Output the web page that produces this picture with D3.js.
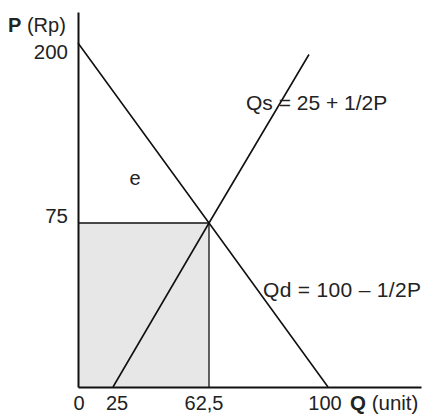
<!DOCTYPE html>
<html><head><meta charset="utf-8">
<script src="https://cdn.jsdelivr.net/npm/d3@7"></script>
<style>
html,body{margin:0;padding:0;background:#fff;}
text{font-family:"Liberation Sans",Arial,sans-serif;fill:#222;}
</style></head>
<body>
<svg id="c" width="423" height="415"></svg>
<script>
// Data
const qTicks = [0, 25, 62.5, 100];
const qTickLabels = ["0", "25", "62,5", "100"];
const pTicks = [75, 200];
const pTickLabels = ["75", "200"];
const demandQ = [0, 62.5, 100];
const demandP = [200, 75, 0];
const supplyQ = [25, 62.5, 94];
const supplyP = [0, 75, 192];
const eqQ = 62.5, eqP = 75;
const demandLabel = "Qd = 100 \u2013 1/2P";
const supplyLabel = "Qs = 25 + 1/2P";

const svg = d3.select("#c");
// schematic (piecewise) scales
const x = d3.scaleLinear().domain([0, 25, 62.5, 100, 130]).range([78, 113, 209, 328, 421]);
const y = d3.scaleLinear().domain([0, 75, 200, 225]).range([387, 223, 43, 12]);

// shaded area
svg.append("rect")
  .attr("x", x(0)).attr("y", y(eqP))
  .attr("width", x(eqQ) - x(0)).attr("height", y(0) - y(eqP))
  .attr("fill", "#e7e7e7");

// guide lines
svg.append("line").attr("x1", x(0)).attr("x2", x(eqQ)).attr("y1", y(eqP)).attr("y2", y(eqP))
  .attr("stroke", "#111").attr("stroke-width", 1.3);
svg.append("line").attr("x1", x(eqQ)).attr("x2", x(eqQ)).attr("y1", y(eqP)).attr("y2", y(0))
  .attr("stroke", "#111").attr("stroke-width", 1.3);

const line = d3.line().x(d => x(d[0])).y(d => y(d[1]));
svg.append("path").attr("d", line(demandQ.map((q, i) => [q, demandP[i]])))
  .attr("fill", "none").attr("stroke", "#111").attr("stroke-width", 1.6);
svg.append("path").attr("d", line(supplyQ.map((q, i) => [q, supplyP[i]])))
  .attr("fill", "none").attr("stroke", "#111").attr("stroke-width", 1.6);

// axes
const xAxis = d3.axisBottom(x).tickValues([]).tickSize(0).tickSizeOuter(0);
const gx = svg.append("g").attr("transform", `translate(0,${y(0)})`).call(xAxis);
gx.select(".domain").attr("stroke", "#111").attr("stroke-width", 2);
const yAxis = d3.axisLeft(y).tickValues([]).tickSize(0).tickSizeOuter(0);
const gy = svg.append("g").attr("transform", `translate(${x(0)},0)`).call(yAxis);
gy.select(".domain").attr("stroke", "#111").attr("stroke-width", 2);

// tick labels
const xOff = [1, 4, -5, -3];
svg.selectAll(".xl").data(qTicks).enter().append("text")
  .attr("x", (d, i) => x(d) + xOff[i]).attr("y", 410)
  .attr("text-anchor", "middle").attr("font-size", 20)
  .text((d, i) => qTickLabels[i]);
svg.selectAll(".yl").data(pTicks).enter().append("text")
  .attr("x", x(0) - 10).attr("y", d => y(d) + (d === 200 ? 16 : 0))
  .attr("text-anchor", "end").attr("font-size", 20.5)
  .text((d, i) => pTickLabels[i]);

// axis titles
const pt = svg.append("text").attr("x", 8).attr("y", 32).attr("font-size", 20);
pt.append("tspan").attr("font-weight", "bold").text("P");
pt.append("tspan").text(" (Rp)");
const qt = svg.append("text").attr("x", 350).attr("y", 410).attr("font-size", 20.5);
qt.append("tspan").attr("font-weight", "bold").text("Q");
qt.append("tspan").text(" (unit)");

// curve labels
svg.append("text").attr("x", 246).attr("y", 110).attr("font-size", 21).text(supplyLabel);
svg.append("text").attr("x", 263).attr("y", 297).attr("font-size", 21).attr("textLength", 158).text(demandLabel);
svg.append("text").attr("x", 135).attr("y", 185).attr("text-anchor", "middle").attr("font-size", 20).text("e");
</script>
</body></html>
